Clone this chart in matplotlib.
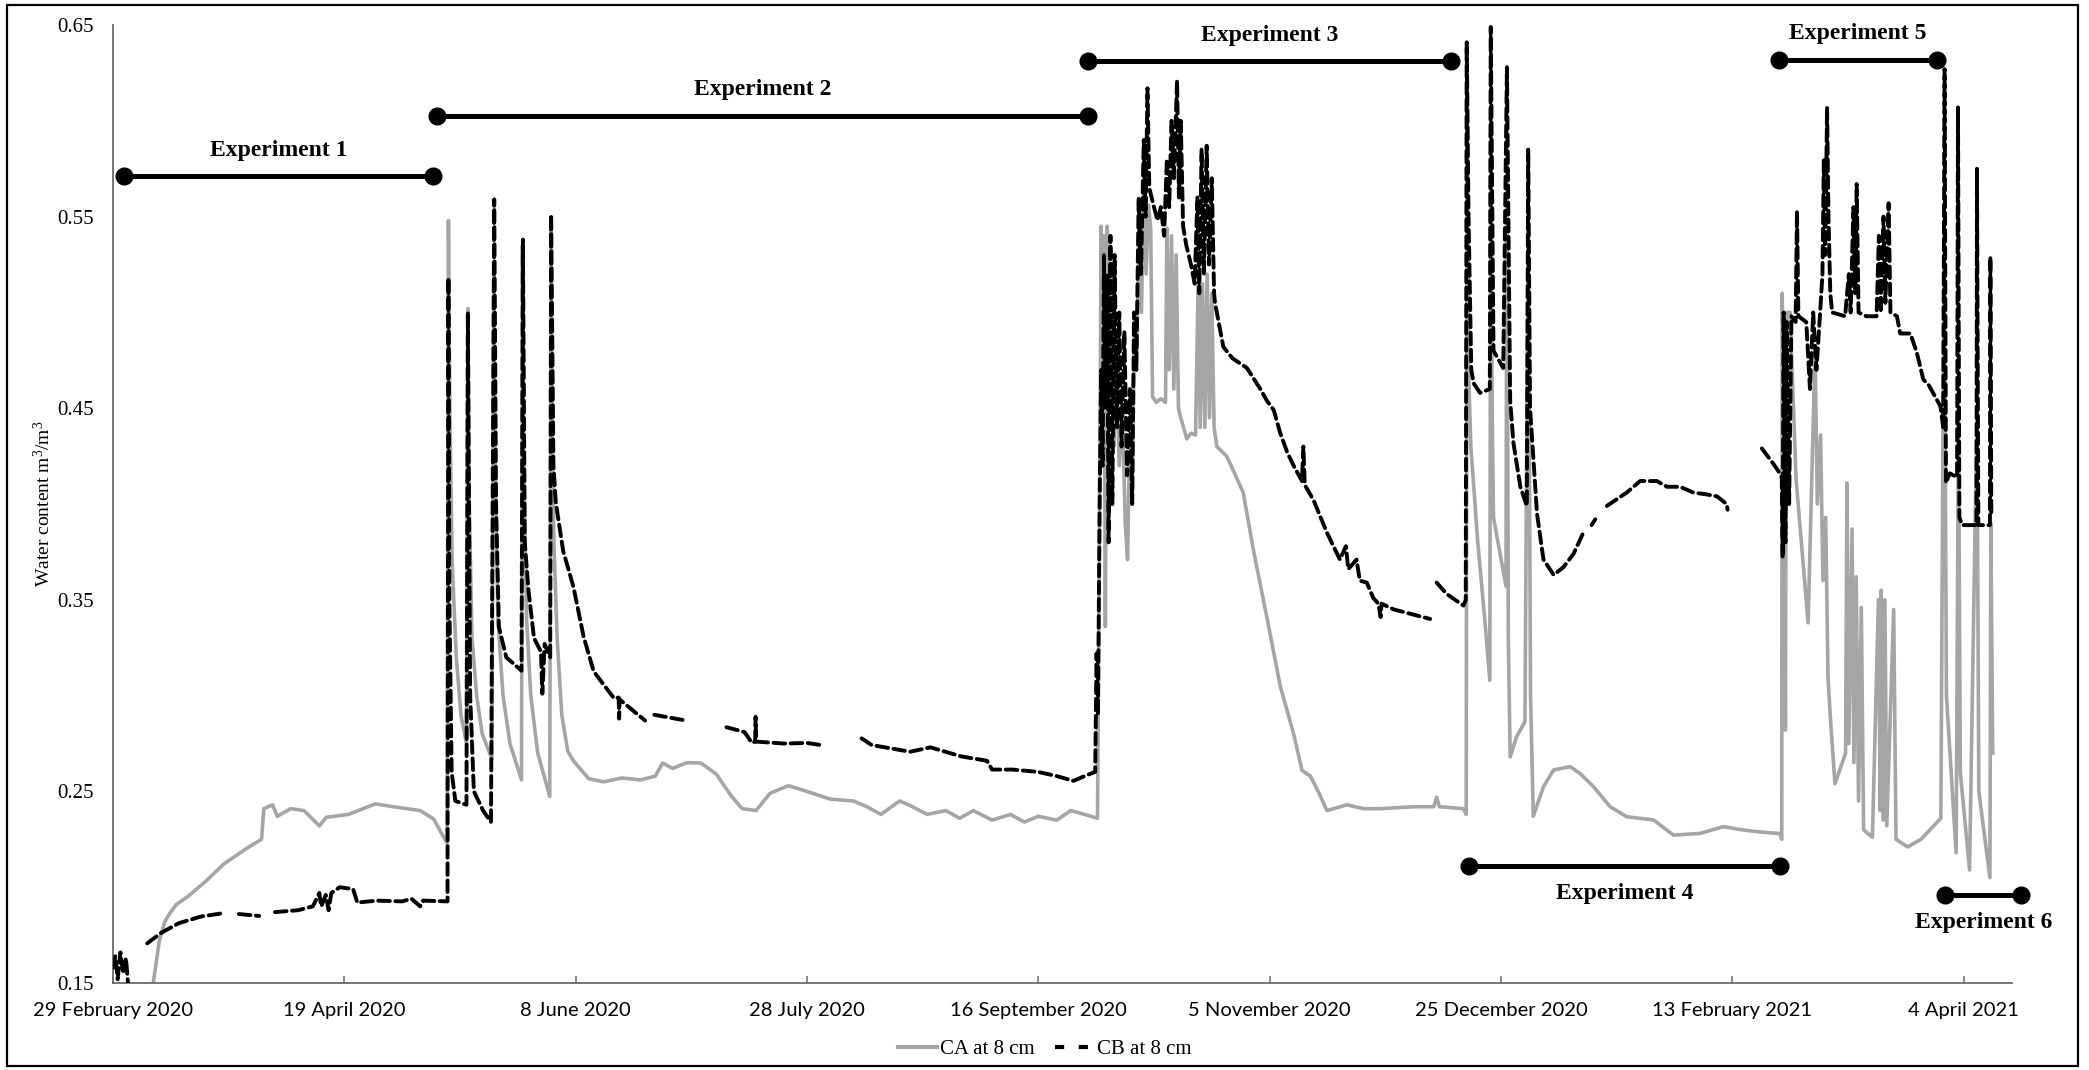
import numpy as np
import pandas as pd
import matplotlib
matplotlib.use("Agg")
import matplotlib.pyplot as plt
import matplotlib.dates as mdates
from matplotlib.lines import Line2D
from matplotlib.patches import Rectangle
from matplotlib.ticker import FixedLocator, FuncFormatter

START = pd.Timestamp("2020-02-29")
nan = np.nan

# CA at 8 cm : (days since 29 Feb 2020, water content)
ca_points = [
    (8.5, 0.145), (8.7, 0.150), (10.0, 0.172), (11.2, 0.182), (12.3, 0.1865), (13.7, 0.191),
    (16.1, 0.195), (20.0, 0.203), (23.9, 0.212), (28.7, 0.220), (32.1, 0.225), (32.6, 0.241),
    (34.5, 0.243), (35.5, 0.237), (38.4, 0.241), (41.3, 0.240), (44.6, 0.232), (46.1, 0.2365),
    (50.9, 0.238), (56.7, 0.2435), (60.6, 0.242), (66.4, 0.240), (69.3, 0.2356), (72.2, 0.223),
    (72.5, 0.548), (72.8, 0.45), (73.3, 0.37), (74.2, 0.32), (75.2, 0.29), (76.4, 0.275),
    (76.7, 0.502), (77.0, 0.40), (77.6, 0.33), (78.6, 0.30), (79.8, 0.28), (81.9, 0.267),
    (82.3, 0.52), (82.6, 0.42), (83.2, 0.34), (84.3, 0.30), (85.8, 0.275), (88.3, 0.256),
    (88.5, 0.535), (88.8, 0.42), (89.4, 0.34), (90.3, 0.30), (91.8, 0.27), (94.4, 0.2474),
    (94.7, 0.545), (94.9, 0.44), (95.3, 0.38), (96.0, 0.33), (97.0, 0.29), (98.3, 0.271),
    (99.5, 0.266), (102.8, 0.2567), (106.0, 0.255), (110.0, 0.257), (114.0, 0.256),
    (117.2, 0.258), (118.8, 0.2648), (121.0, 0.262), (124.0, 0.265), (127.1, 0.2648), (130.4, 0.259),
    (133.7, 0.2474), (136.0, 0.241), (139.0, 0.240), (142.0, 0.249), (146.0, 0.253), (150.0, 0.250),
    (155.0, 0.246), (160.0, 0.245), (163.0, 0.242), (166.0, 0.238), (170.0, 0.245), (172.0, 0.243),
    (176.0, 0.238), (180.0, 0.240), (183.0, 0.236), (186.0, 0.240), (190.0, 0.235), (194.0, 0.238),
    (197.0, 0.234), (200.0, 0.237), (204.0, 0.235), (207.0, 0.240), (210.0, 0.238), (212.8, 0.236),
    (213.2, 0.38), (213.6, 0.545), (213.9, 0.42), (214.2, 0.54), (214.5, 0.336), (214.9, 0.545),
    (215.3, 0.45), (215.8, 0.52), (216.3, 0.43), (216.8, 0.48), (217.5, 0.42), (218.2, 0.45),
    (218.8, 0.39), (219.3, 0.371), (219.8, 0.44), (220.3, 0.40), (220.8, 0.50), (221.3, 0.48),
    (221.8, 0.55), (222.3, 0.50), (222.8, 0.567), (223.3, 0.52), (223.8, 0.556), (224.3, 0.544),
    (224.7, 0.456), (225.5, 0.453), (226.5, 0.455), (227.5, 0.453), (227.8, 0.544), (228.3, 0.47),
    (228.8, 0.54), (229.3, 0.46), (229.8, 0.53), (230.3, 0.45), (230.8, 0.445), (232.1, 0.434),
    (233.0, 0.437), (234.0, 0.436), (234.6, 0.523), (235.0, 0.44), (235.5, 0.515), (236.0, 0.44),
    (236.5, 0.52), (237.0, 0.445), (237.5, 0.51), (238.0, 0.44), (238.6, 0.430), (240.7, 0.425),
    (241.5, 0.421), (244.3, 0.406), (246.5, 0.376), (249.4, 0.341), (252.3, 0.305), (255.2, 0.280),
    (257.0, 0.261), (258.8, 0.258), (260.5, 0.250), (262.4, 0.240), (266.7, 0.243), (270.3, 0.241),
    (273.9, 0.241), (281.1, 0.242), (285.5, 0.242), (286.1, 0.247), (286.7, 0.242), (291.9, 0.241),
    (292.5, 0.238), (292.7, 0.64), (293.0, 0.47), (293.5, 0.43), (295.0, 0.38), (296.5, 0.34),
    (297.6, 0.308), (297.8, 0.60), (298.1, 0.45), (298.4, 0.393), (301.1, 0.357), (301.3, 0.58),
    (301.6, 0.33), (302.0, 0.268), (303.4, 0.2786), (305.2, 0.2864), (305.9, 0.56), (306.4, 0.30),
    (307.0, 0.237), (309.2, 0.2525), (311.4, 0.2612), (315.0, 0.2629), (317.1, 0.2594), (320.0, 0.2525),
    (323.6, 0.242), (327.2, 0.2368), (333.0, 0.2351), (337.3, 0.2272), (343.1, 0.2281), (348.1, 0.2316),
    (352.0, 0.230), (355.3, 0.229), (360.3, 0.228), (360.7, 0.225), (360.8, 0.51), (361.2, 0.45),
    (361.5, 0.282), (361.7, 0.50), (362.5, 0.50), (363.8, 0.413), (366.4, 0.338), (367.9, 0.48),
    (368.4, 0.40), (369.1, 0.436), (369.6, 0.36), (370.2, 0.393), (370.7, 0.31), (371.2, 0.289),
    (372.2, 0.254), (374.5, 0.27), (374.8, 0.411), (375.2, 0.275), (375.9, 0.387), (376.3, 0.265),
    (376.8, 0.362), (377.3, 0.245), (377.9, 0.346), (378.4, 0.23), (380.3, 0.226), (381.6, 0.35),
    (382.0, 0.24), (382.2, 0.355), (382.6, 0.235), (383.0, 0.35), (383.4, 0.232), (384.9, 0.345),
    (385.4, 0.225), (387.9, 0.221), (390.8, 0.225), (395.1, 0.236), (395.8, 0.55), (396.3, 0.30),
    (398.4, 0.218), (398.9, 0.45), (399.3, 0.26), (401.3, 0.209), (402.9, 0.45), (403.3, 0.25),
    (405.7, 0.205), (405.9, 0.39), (406.3, 0.27),
]

# CB at 8 cm : nan marks logger gaps
cb_points = [
    (0.0, 0.158), (0.5, 0.164), (1.0, 0.152), (1.6, 0.166), (2.2, 0.155), (2.8, 0.163), (3.3, 0.148),
    (3.3, nan),
    (7.4, 0.1707), (10.3, 0.176), (14.2, 0.1812), (19.0, 0.1847), (23.9, 0.1865),
    (23.9, nan),
    (27.2, 0.186), (31.6, 0.185),
    (31.6, nan),
    (35.0, 0.187), (40.0, 0.188), (43.2, 0.190), (44.6, 0.197), (45.0, 0.190), (46.0, 0.196),
    (46.6, 0.188), (47.2, 0.197), (49.0, 0.200), (51.9, 0.199), (52.8, 0.192), (57.0, 0.193),
    (62.5, 0.1926), (64.5, 0.194), (66.4, 0.190), (67.0, 0.193), (72.3, 0.1926), (72.5, 0.518),
    (72.7, 0.35), (73.2, 0.26), (74.0, 0.245), (76.4, 0.243), (76.7, 0.50), (77.2, 0.30),
    (78.0, 0.25), (80.0, 0.24), (81.7, 0.234), (82.4, 0.559), (82.8, 0.40), (83.4, 0.336),
    (85.0, 0.32), (88.3, 0.313), (88.6, 0.538), (89.0, 0.38), (89.8, 0.355), (91.0, 0.33),
    (92.5, 0.323), (92.8, 0.301), (93.3, 0.327), (94.5, 0.32), (94.7, 0.551), (95.2, 0.42),
    (95.7, 0.401), (97.3, 0.3755), (99.5, 0.357), (101.7, 0.331), (103.9, 0.3126), (108.3, 0.2986),
    (109.3, 0.299), (109.4, 0.288), (109.5, 0.298), (115.0, 0.287),
    (115.0, nan),
    (117.0, 0.290), (123.8, 0.287),
    (123.8, nan),
    (132.6, 0.2835), (136.5, 0.281), (138.1, 0.2753), (138.8, 0.276), (138.9, 0.289), (139.0, 0.276),
    (145.0, 0.275), (150.0, 0.2753), (153.6, 0.274),
    (153.6, nan),
    (161.8, 0.2777), (164.0, 0.2742), (172.3, 0.2707), (176.7, 0.273), (183.3, 0.2683), (188.9, 0.266),
    (190.0, 0.2614), (194.4, 0.2614), (199.9, 0.2602), (204.0, 0.258), (207.6, 0.2555), (210.0, 0.258),
    (212.3, 0.2602), (212.6, 0.322), (212.9, 0.29), (213.3, 0.41), (213.6, 0.47), (213.9, 0.42),
    (214.2, 0.53), (214.5, 0.45), (214.9, 0.52), (215.2, 0.38), (215.6, 0.54), (216.0, 0.40),
    (216.5, 0.53), (217.0, 0.44), (217.5, 0.50), (218.0, 0.43), (218.6, 0.49), (219.2, 0.415),
    (219.8, 0.46), (220.3, 0.40), (220.7, 0.50), (221.2, 0.47), (221.7, 0.56), (222.2, 0.52),
    (222.8, 0.59), (223.2, 0.55), (223.6, 0.617), (224.0, 0.565), (225.0, 0.555), (225.8, 0.548),
    (226.5, 0.555), (227.2, 0.54), (227.8, 0.58), (228.3, 0.555), (228.8, 0.60), (229.3, 0.57),
    (230.0, 0.621), (230.4, 0.56), (230.8, 0.60), (231.3, 0.545), (232.0, 0.535), (233.0, 0.525),
    (233.8, 0.515), (234.4, 0.56), (234.8, 0.51), (235.3, 0.585), (235.8, 0.52), (236.4, 0.587),
    (236.9, 0.525), (237.5, 0.57), (238.0, 0.51), (238.2, 0.505), (240.0, 0.482), (242.0, 0.476),
    (245.1, 0.471), (248.0, 0.460), (249.4, 0.454), (250.9, 0.449), (252.3, 0.437), (253.8, 0.427),
    (255.2, 0.420), (257.0, 0.412), (257.3, 0.43), (257.6, 0.410), (259.5, 0.402), (262.4, 0.385),
    (265.2, 0.371), (266.5, 0.378), (267.0, 0.366), (268.8, 0.371), (269.5, 0.36), (271.0, 0.359),
    (272.4, 0.351), (273.5, 0.348), (274.0, 0.341), (274.2, 0.348), (276.8, 0.345), (284.7, 0.340),
    (284.7, nan),
    (286.1, 0.359), (288.3, 0.353), (291.9, 0.347), (292.4, 0.35), (292.6, 0.641), (293.0, 0.55),
    (293.6, 0.47), (294.1, 0.463), (295.5, 0.458), (297.6, 0.46), (297.8, 0.649), (298.4, 0.48),
    (300.5, 0.471), (301.3, 0.628), (302.0, 0.454), (302.7, 0.432), (304.2, 0.409), (305.6, 0.399),
    (305.9, 0.585), (306.3, 0.45), (307.8, 0.395), (309.2, 0.371), (311.4, 0.363), (313.5, 0.367),
    (315.7, 0.374), (317.8, 0.385),
    (317.8, nan),
    (319.6, 0.389), (320.4, 0.392),
    (320.4, nan),
    (322.9, 0.399), (327.2, 0.406), (330.1, 0.412), (333.7, 0.412), (335.9, 0.409), (338.7, 0.409),
    (341.6, 0.406), (344.5, 0.405), (346.7, 0.404), (348.8, 0.400), (349.0, 0.397),
    (349.0, nan),
    (356.4, 0.429), (358.9, 0.421), (360.3, 0.416), (360.7, 0.414), (360.9, 0.372), (361.1, 0.50),
    (361.5, 0.38), (361.8, 0.495), (362.3, 0.40), (362.8, 0.498), (363.7, 0.495), (364.0, 0.553),
    (364.3, 0.498), (366.0, 0.495), (366.8, 0.46), (367.5, 0.50), (368.2, 0.47), (369.0, 0.50),
    (369.5, 0.52), (369.8, 0.58), (370.1, 0.53), (370.5, 0.607), (370.8, 0.55), (371.2, 0.51),
    (371.6, 0.50), (374.4, 0.498), (375.2, 0.52), (375.6, 0.50), (376.2, 0.555), (376.6, 0.51),
    (376.9, 0.567), (377.3, 0.50), (379.0, 0.498), (381.2, 0.498), (381.7, 0.54), (382.1, 0.50),
    (382.7, 0.55), (383.1, 0.505), (383.8, 0.557), (384.2, 0.50), (385.6, 0.498), (386.3, 0.489),
    (388.5, 0.489), (389.9, 0.479), (391.3, 0.465), (392.5, 0.462), (395.0, 0.451), (395.6, 0.44),
    (395.9, 0.627), (396.2, 0.411), (397.0, 0.416), (398.6, 0.414), (398.8, 0.607), (399.1, 0.393),
    (399.7, 0.389), (402.8, 0.389), (402.9, 0.575), (403.2, 0.389), (405.7, 0.389), (405.8, 0.529),
    (406.0, 0.393),
]

# experiment periods (days since 29 Feb 2020) and the level of their marker bars
exp_names = ["Experiment 1", "Experiment 2", "Experiment 3", "Experiment 4", "Experiment 5", "Experiment 6"]
exp_start = [2.4, 70.1, 210.8, 293.0, 360.1, 396.0]
exp_end = [69.2, 210.8, 289.2, 360.4, 394.3, 412.5]
exp_level = [0.571, 0.6025, 0.631, 0.211, 0.632, 0.196]
exp_label_above = [True, True, True, False, True, False]

tick_days = [0, 50, 100, 150, 200, 250, 300, 350, 400]


def to_dates(days):
    return START + pd.to_timedelta(np.asarray(days, dtype=float), unit="D")


ca_day, ca_val = zip(*ca_points)
cb_day, cb_val = zip(*cb_points)

plt.rcParams["font.family"] = ["Liberation Serif", "DejaVu Serif"]
plt.rcParams["mathtext.default"] = "regular"

fig = plt.figure(figsize=(20.89, 10.70), dpi=100)
ax = fig.add_axes([0.0541, 0.0813, 0.9091, 0.8953])

ax.plot(to_dates(ca_day), ca_val, color="#a5a5a5", lw=2.6, solid_joinstyle="round", zorder=2)
ax.plot(to_dates(cb_day), cb_val, color="black", lw=2.8, dashes=(3.0, 1.4),
        dash_capstyle="round", dash_joinstyle="round", zorder=3)

for name, s, e, lev, above in zip(exp_names, exp_start, exp_end, exp_level, exp_label_above):
    ax.plot(to_dates([s, e]), [lev, lev], color="black", lw=3.6, marker="o", ms=12,
            clip_on=False, zorder=5)
    mid = to_dates([(s + e) / 2])[0]
    ax.annotate(name, xy=(mid, lev), xytext=(0, 19 if above else -20), textcoords="offset points",
                ha="center", va="center", fontsize=17, fontweight="bold", annotation_clip=False)

ax.set_ylim(0.15, 0.65)
ax.set_yticks([0.15, 0.25, 0.35, 0.45, 0.55, 0.65])
ax.yaxis.set_major_formatter(FuncFormatter(lambda v, p: f"{v:.2f}"))
ax.set_xlim(to_dates([0])[0], to_dates([410.5])[0])
ax.xaxis.set_major_locator(FixedLocator(mdates.date2num(to_dates(tick_days))))
ax.xaxis.set_major_formatter(FuncFormatter(
    lambda v, p: "{} {}".format(mdates.num2date(v).day, mdates.num2date(v).strftime("%B %Y"))))

for side in ("top", "right"):
    ax.spines[side].set_visible(False)
for side in ("left", "bottom"):
    ax.spines[side].set_color("#6b6b6b")
    ax.spines[side].set_linewidth(1.3)

ax.tick_params(axis="y", length=0, pad=14, labelsize=15)
ax.tick_params(axis="x", direction="in", length=5, width=1.1, color="#6b6b6b", pad=14)
for lab in ax.get_xticklabels():
    lab.set_fontfamily(["Lato", "DejaVu Sans"])
    lab.set_fontsize(14.5)

ax.set_ylabel("Water content m$^3$/m$^3$", fontsize=14)
ax.yaxis.set_label_coords(-0.031, 0.5)

handles = [
    Line2D([], [], color="#a5a5a5", lw=3),
    Line2D([], [], color="black", lw=3, dashes=(2.2, 3.5)),
]
fig.legend(handles, ["CA at 8 cm", "CB at 8 cm"], loc="center", bbox_to_anchor=(0.5, 0.019),
           ncol=2, frameon=False, fontsize=15, handlelength=1.9, handletextpad=0.1,
           columnspacing=1.0)

fig.patches.append(Rectangle((0.0034, 0.0037), 0.9914, 0.9916, transform=fig.transFigure,
                             fill=False, edgecolor="black", lw=1.6))

fig.savefig("out.png", dpi=100)
